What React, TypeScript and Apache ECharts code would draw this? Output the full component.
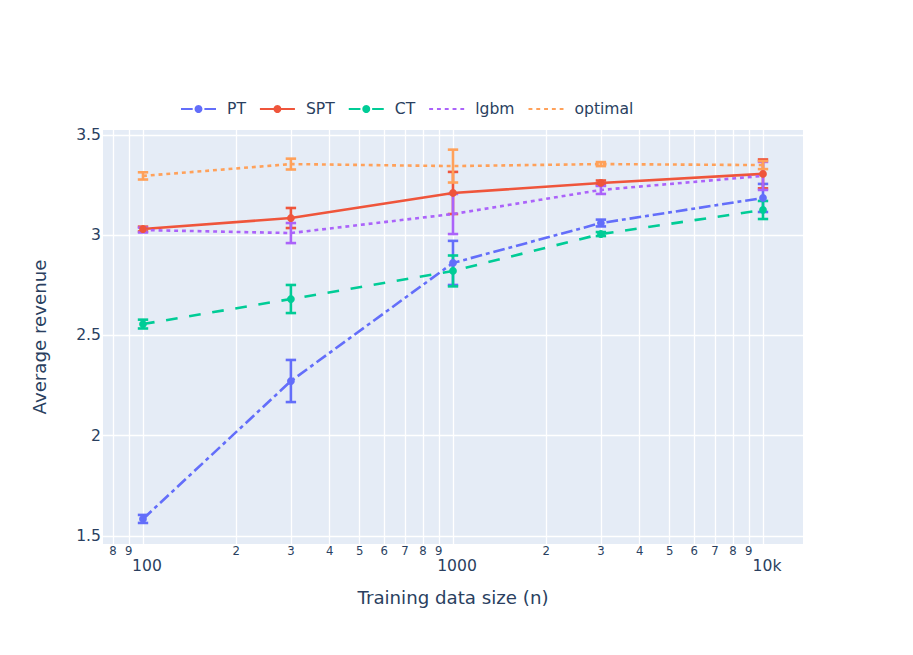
import React, { useEffect, useRef } from "react";
import * as echarts from "echarts";

const N = [100, 300, 1000, 3000, 10000];
const PT_MEAN = [1.585, 2.273, 2.862, 3.061, 3.186];
const PT_ERR = [0.02, 0.105, 0.11, 0.017, 0.07];
const SPT_MEAN = [3.031, 3.086, 3.211, 3.261, 3.306];
const SPT_ERR = [0.012, 0.05, 0.105, 0.012, 0.072];
const CT_MEAN = [2.557, 2.682, 2.822, 3.006, 3.126];
const CT_ERR = [0.022, 0.07, 0.077, 0.01, 0.045];
const LGBM_MEAN = [3.026, 3.011, 3.106, 3.226, 3.296];
const LGBM_ERR = [0.012, 0.05, 0.1, 0.02, 0.07];
const OPT_MEAN = [3.296, 3.355, 3.345, 3.355, 3.35];
const OPT_ERR = [0.018, 0.027, 0.082, 0.01, 0.02];

const X_GRID = [80, 90, 100, 200, 300, 400, 500, 600, 700, 800, 900, 1000, 2000, 3000, 4000, 5000, 6000, 7000, 8000, 9000, 10000];
const X_MAJOR = [100, 1000, 10000];
const X_MINOR = [80, 90, 200, 300, 400, 500, 600, 700, 800, 900, 2000, 3000, 4000, 5000, 6000, 7000, 8000, 9000];
const Y_TICKS = [1.5, 2, 2.5, 3, 3.5];

const FONT = "'DejaVu Sans', Verdana, Arial, sans-serif";
const TEXT = "#2a3f5f";
const X_MIN = 74.3;
const X_MAX = 13460;

const SERIES = [
  { name: "PT", mean: PT_MEAN, err: PT_ERR, color: "#636efa", dash: [11.7, 3.9, 3.9, 3.9], marker: true },
  { name: "SPT", mean: SPT_MEAN, err: SPT_ERR, color: "#EF553B", dash: "solid", marker: true },
  { name: "CT", mean: CT_MEAN, err: CT_ERR, color: "#00cc96", dash: [11.7, 11.7], marker: true },
  { name: "lgbm", mean: LGBM_MEAN, err: LGBM_ERR, color: "#ab63fa", dash: [3.9, 3.9], marker: false },
  { name: "optimal", mean: OPT_MEAN, err: OPT_ERR, color: "#FFA15A", dash: [3.9, 3.9], marker: false },
];

function errRender(color: string) {
  return (params: any, api: any) => {
    const x = api.value(0);
    const lo = api.coord([x, api.value(1)]);
    const hi = api.coord([x, api.value(2)]);
    const w = 5.2;
    const style = { stroke: color, lineWidth: 2.6 };
    return {
      type: "group",
      children: [
        { type: "line", shape: { x1: lo[0], y1: lo[1], x2: hi[0], y2: hi[1] }, style },
        { type: "line", shape: { x1: lo[0] - w, y1: lo[1], x2: lo[0] + w, y2: lo[1] }, style },
        { type: "line", shape: { x1: hi[0] - w, y1: hi[1], x2: hi[0] + w, y2: hi[1] }, style },
      ],
    };
  };
}

function fmtMajor(v: number) {
  const r = Math.round(v);
  return r >= 10000 ? r / 1000 + "k" : String(r);
}

function fmtMinor(v: number) {
  const e = Math.floor(Math.log10(v) + 1e-9);
  return String(Math.round(v / Math.pow(10, e)));
}

export default function App() {
  const ref = useRef<HTMLDivElement>(null);
  useEffect(() => {
    document.body.style.margin = "0";
    const chart = echarts.init(ref.current!, undefined, { renderer: "svg" });
    const series: any[] = [];
    SERIES.forEach((s) => {
      series.push({
        name: s.name + " err",
        type: "custom",
        renderItem: errRender(s.color),
        data: N.map((n, i) => [n, s.mean[i] - s.err[i], s.mean[i] + s.err[i]]),
        encode: { x: 0, y: [1, 2] },
        z: 2,
        silent: true,
      });
      series.push({
        name: s.name,
        type: "line",
        data: N.map((n, i) => [n, s.mean[i]]),
        symbol: s.marker ? "circle" : "none",
        symbolSize: 7.8,
        showSymbol: s.marker,
        color: s.color,
        itemStyle: { color: s.color },
        lineStyle: { color: s.color, width: 2.6, type: s.dash },
        z: 3,
      });
    });
    chart.setOption({
      animation: false,
      textStyle: { fontFamily: FONT },
      legend: {
        data: SERIES.map((s) =>
          s.marker ? { name: s.name } : { name: s.name, itemStyle: { opacity: 0 } }
        ),
        left: 175,
        top: 96,
        orient: "horizontal",
        itemWidth: 35,
        itemHeight: 10,
        itemGap: 13,
        textStyle: { fontSize: 15.6, color: TEXT, fontFamily: FONT, padding: [0, 0, 0, 6] },
      },
      grid: { left: 103, top: 130, width: 700, height: 414, show: true, backgroundColor: "#e5ecf6", borderWidth: 0 },
      xAxis: [
        {
          type: "log",
          logBase: 10,
          min: X_MIN,
          max: X_MAX,
          position: "bottom",
          name: "Training data size (n)",
          nameLocation: "middle",
          nameGap: 44,
          nameTextStyle: { fontSize: 18.2, color: TEXT, fontFamily: FONT },
          axisLine: { show: false },
          axisTick: { show: false, customValues: X_GRID },
          splitLine: { show: true, lineStyle: { color: "#ffffff", width: 1.3 } },
          axisLabel: {
            customValues: X_MAJOR,
            showMinLabel: true,
            showMaxLabel: true,
            hideOverlap: false,
            margin: 14,
            padding: [0, 0, 0, 8],
            fontSize: 15.6,
            color: TEXT,
            fontFamily: FONT,
            formatter: fmtMajor,
          },
        },
        {
          type: "log",
          logBase: 10,
          min: X_MIN,
          max: X_MAX,
          position: "bottom",
          offset: 0,
          axisLine: { show: false },
          axisTick: { show: false },
          splitLine: { show: false },
          axisLabel: {
            customValues: X_MINOR,
            showMinLabel: true,
            showMaxLabel: true,
            hideOverlap: false,
            margin: 1,
            fontSize: 11.7,
            color: TEXT,
            fontFamily: FONT,
            formatter: fmtMinor,
          },
        },
      ],
      yAxis: {
        type: "value",
        min: 1.46,
        max: 3.525,
        name: "Average revenue",
        nameLocation: "middle",
        nameGap: 55,
        nameRotate: 90,
        nameTextStyle: { fontSize: 18.2, color: TEXT, fontFamily: FONT },
        axisLine: { show: false },
        axisTick: { show: false, customValues: Y_TICKS },
        splitLine: { show: true, lineStyle: { color: "#ffffff", width: 1.3 } },
        axisLabel: {
          customValues: Y_TICKS,
          margin: 2,
          fontSize: 15.6,
          color: TEXT,
          fontFamily: FONT,
          formatter: (v: number) => String(v),
        },
      },
      series,
    });
    return () => chart.dispose();
  }, []);
  return <div ref={ref} style={{ width: 913, height: 655 }} />;
}
